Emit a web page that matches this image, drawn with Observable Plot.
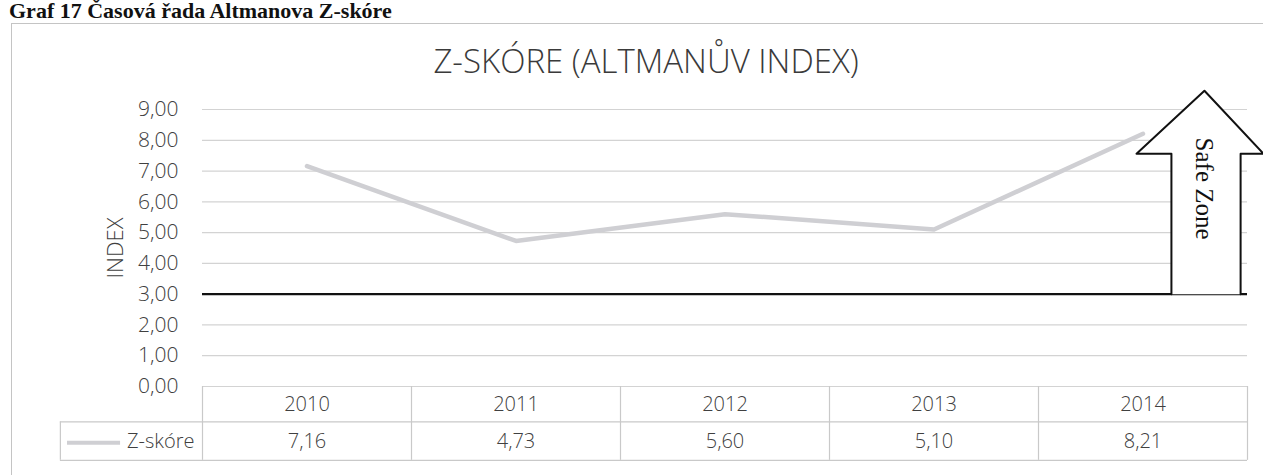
<!DOCTYPE html>
<html>
<head>
<meta charset="utf-8">
<script src="https://cdn.jsdelivr.net/npm/d3@7"></script>
<script src="https://cdn.jsdelivr.net/npm/@observablehq/plot@0.6"></script>
<style>
  html, body { margin: 0; padding: 0; background: #fff; width: 1263px; height: 475px; overflow: hidden; }
  #wrap { position: relative; width: 1263px; height: 475px; }
  #header { position: absolute; left: 9px; top: 0px; font-family: "Liberation Serif", "Times New Roman", serif; font-weight: bold; font-size: 22px; line-height: 22px; color: #111; white-space: nowrap; }
  #frame { position: absolute; left: 11px; top: 23px; width: 1270px; height: 460px; border-left: 1.5px solid #c4c4c4; border-top: 1.5px solid #c4c4c4; }
  #ctitle { position: absolute; left: 0; width: 1292px; top: 40px; text-align: center; font-family: "Open Sans", sans-serif; font-weight: 300; font-size: 33px; line-height: 42px; color: #3a3a3a; white-space: nowrap; }
  #chart { position: absolute; left: 0; top: 0; }
</style>
</head>
<body>
<div id="wrap">
  <div id="chart"></div>
  <div id="frame"></div>
  <div id="header">Graf 17 Časová řada Altmanova Z-skóre</div>
  <div id="ctitle">Z-SKÓRE (ALTMANŮV INDEX)</div>
</div>
<script>
// ---- data ----
const years = [2010, 2011, 2012, 2013, 2014];
const zScore = [7.16, 4.73, 5.60, 5.10, 8.21];
const seriesName = "Z-skóre";
const yTicks = [0, 1, 2, 3, 4, 5, 6, 7, 8, 9];
const yAxisLabel = "INDEX";
const thresholdValue = 3;
const safeZoneLabel = "Safe Zone";

// ---- derived table ----
const rows = years.map((year, i) => ({year, value: zScore[i]}));
const fmt = v => d3.format(".2f")(v).replace(".", ",");

// ---- layout constants (data-space annotation geometry) ----
const xLo = years[0] - 0.5, xHi = years[years.length - 1] + 0.5;
const tableYearY = -0.58, tableValY = -1.78;
const tableMid = -1.15, tableBot = -2.4;
const legendLeft = 2008.82;
const arrowPts = [
  [2014.136, 3], [2014.136, 7.56], [2013.969, 7.56], [2014.294, 9.61],
  [2014.577, 7.56], [2014.467, 7.56], [2014.467, 3]
].map(([x, y]) => ({x, y}));

const textColor = "#404040";
const gridColor = "#d3d3d3";
const tableColor = "#c9c9c9";

const chart = Plot.plot({
  width: 1263,
  height: 475,
  marginTop: 109,
  marginBottom: 89,
  marginLeft: 202,
  marginRight: 16,
  style: {fontFamily: "'Open Sans', sans-serif", background: "transparent", overflow: "visible"},
  x: {type: "linear", domain: [xLo, xHi], axis: null},
  y: {domain: [0, 9], axis: null},
  marks: [
    // gridlines
    Plot.ruleY(yTicks, {stroke: gridColor, strokeWidth: 1.2}),
    // y tick labels
    Plot.text(yTicks, {x: xLo, y: d => d, text: d => fmt(d), textAnchor: "end", dx: -24, fontSize: 21, fill: textColor, fontWeight: 300}),
    // y axis label
    Plot.text([yAxisLabel], {frameAnchor: "left", textAnchor: "middle", dx: -87, rotate: -90, fontSize: 22, fill: textColor, fontWeight: 300}),
    // data table lines
    Plot.ruleY([tableMid, tableBot], {x1: legendLeft, x2: xHi, stroke: tableColor, strokeWidth: 1.2}),
    Plot.ruleX(d3.range(years.length + 1).map(i => xLo + i), {y1: 0, y2: tableBot, stroke: tableColor, strokeWidth: 1.2}),
    Plot.ruleX([legendLeft], {y1: tableMid, y2: tableBot, stroke: tableColor, strokeWidth: 1.2}),
    // table text
    Plot.text(rows, {x: "year", y: tableYearY, text: d => String(d.year), fontSize: 20, fill: textColor, fontWeight: 300}),
    Plot.text(rows, {x: "year", y: tableValY, text: d => fmt(d.value), fontSize: 20, fill: textColor, fontWeight: 300}),
    // legend key in table
    Plot.ruleY([tableValY - 0.05], {x1: 2008.854, x2: 2009.108, stroke: "#cfcfd3", strokeWidth: 4}),
    Plot.text([seriesName], {x: xLo, y: tableValY, textAnchor: "end", dx: -8, fontSize: 20, fill: textColor, fontWeight: 300}),
    // series line
    Plot.line(rows, {x: "year", y: "value", stroke: "#cfcfd3", strokeWidth: 4.5, strokeLinecap: "round", strokeLinejoin: "round"}),
    // threshold
    Plot.ruleY([thresholdValue], {x1: xLo, x2: xHi, stroke: "#111", strokeWidth: 2.2}),
    // safe zone arrow
    Plot.line(arrowPts, {x: "x", y: "y", fill: "white", stroke: "#111", strokeWidth: 2, clip: false}),
    Plot.text([safeZoneLabel], {x: 2014.294, y: 6.43, rotate: 90, fontSize: 25, fill: "#111", fontFamily: "'Liberation Serif', serif"})
  ]
});
document.getElementById("chart").appendChild(chart);
</script>
</body>
</html>
